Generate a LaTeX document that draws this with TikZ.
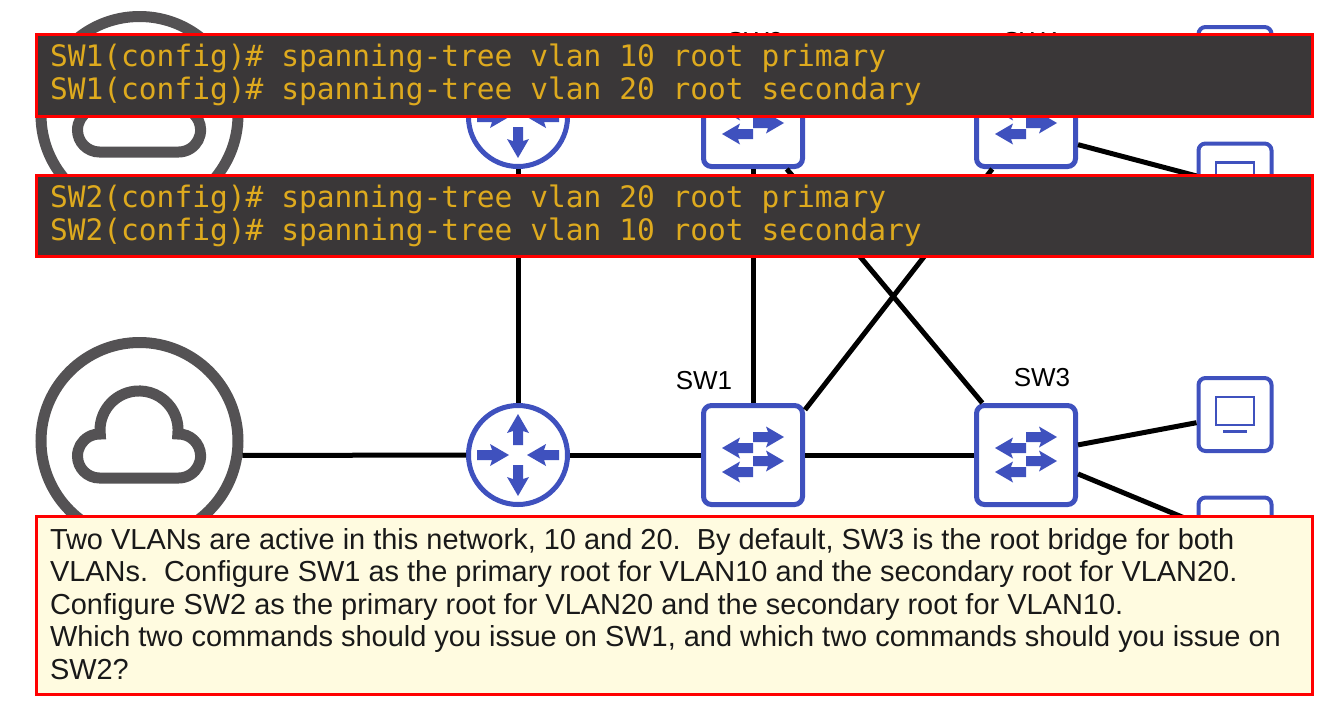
\documentclass[tikz,border=0pt]{standalone}
\usepackage{fontspec}
\setmainfont{Liberation Sans}
\newfontfamily\cmdfont{DejaVu Sans Mono}
\definecolor{iconblue}{RGB}{63,81,190}
\definecolor{cloudgray}{RGB}{84,82,84}
\definecolor{cmdback}{RGB}{58,55,56}
\definecolor{cmdgold}{RGB}{222,170,30}
\definecolor{noteback}{RGB}{255,251,224}
\tikzset{
    routernode/.style={
        circle,
        draw=iconblue,
        fill=white,
        line width=5pt,
        minimum size=99pt,
        inner sep=0
    },
    switchnode/.style={
        rectangle,
        draw=iconblue,
        fill=white,
        line width=5pt,
        rounded corners=8pt,
        minimum size=99pt,
        inner sep=0
    },
    pcnode/.style={
        rectangle,
        draw=iconblue,
        fill=white,
        line width=4pt,
        rounded corners=7pt,
        minimum size=73pt,
        inner sep=0
    },
    cloudnode/.style={
        circle,
        draw=cloudgray,
        fill=white,
        line width=11pt,
        minimum size=197pt,
        inner sep=0
    },
    link/.style={line width=5pt, black},
    namelabel/.style={font=\fontsize{26}{30}\selectfont, inner sep=0},
    cmdpanel/.style={
        rectangle,
        draw=red,
        fill=cmdback,
        line width=3pt,
        text width=1249pt,
        inner xsep=13.5pt,
        inner ysep=0,
        align=flush left,
        text=cmdgold,
        font=\cmdfont\fontsize{29.55}{33}\selectfont
    },
    notepanel/.style={
        rectangle,
        draw=red,
        fill=noteback,
        line width=3pt,
        minimum height=178pt,
        text width=1249pt,
        inner xsep=13.5pt,
        inner ysep=0,
        align=flush left,
        text=black!90,
        font=\fontsize{28.95}{32.5}\selectfont
    },
    routerarrows/.pic={
        \foreach \a in {90,270} {
            \fill[iconblue, rotate=\a] (41,0) -- (22,11) -- (24,5) -- (10,5) -- (10,-5) -- (24,-5) -- (22,-11) -- cycle;
        }
        \foreach \a in {0,180} {
            \fill[iconblue, rotate=\a] (9,0) -- (28,11) -- (26,5) -- (41,5) -- (41,-5) -- (26,-5) -- (28,-11) -- cycle;
        }
    },
    switcharrow/.pic={
        \fill[iconblue] (31,0) -- (13,10.5) -- (15,5) -- (0,5) -- (0,-5) -- (15,-5) -- (13,-10.5) -- cycle;
    },
    switcharrows/.pic={
        \pic at (0,-18) {switcharrow};
        \pic at (0,6) {switcharrow};
        \pic[rotate=180] at (0,-7) {switcharrow};
        \pic[rotate=180] at (0,17) {switcharrow};
    },
    pcscreen/.pic={
        \draw[iconblue, line width=2.5pt] (-19,-17.5) rectangle (19,10.5);
        \draw[iconblue, line width=2.5pt] (-12,17) -- (12,17);
    },
    cloudshape/.pic={
        \draw[cloudgray, line width=11pt] (-40,37)
            arc[start angle=90, end angle=272, radius=22]
            arc[start angle=174, end angle=366, radius=39]
            arc[start angle=268, end angle=450, radius=22]
            -- cycle;
    }
}
\begin{document}
\begin{tikzpicture}[x=1pt, y=-1pt]
    \useasboundingbox (0,0) rectangle (1343,713);
    % upper row
    \node[cloudnode] (cloud2) at (139.5,115) {};
    \node[routernode] (rt2) at (518,117) {};
    \node[switchnode] (sw2) at (753,117) {};
    \node[switchnode] (sw4) at (1026,117) {};
    \node[pcnode] (pc1) at (1235,63.5) {};
    \node[pcnode] (pc2) at (1235,180) {};
    % lower row
    \node[cloudnode] (cloud1) at (139.5,441) {};
    \node[routernode] (rt1) at (518,455) {};
    \node[switchnode] (sw1) at (753,455) {};
    \node[switchnode] (sw3) at (1026,455) {};
    \node[pcnode] (pc3) at (1235,414.5) {};
    \node[pcnode] (pc4) at (1235,534) {};
    % icons
    \pic at (cloud1) {cloudshape};
    \pic at (cloud2) {cloudshape};
    \pic at (rt1) {routerarrows};
    \pic at (rt2) {routerarrows};
    \foreach \n in {sw1,sw2,sw3,sw4} {
        \pic at (\n) {switcharrows};
    }
    \foreach \n in {pc1,pc2,pc3,pc4} {
        \pic at (\n) {pcscreen};
    }
    % links
    \draw[link] (cloud1.-8) -- (rt1.west);
    \draw[link] (rt1.east) -- (sw1.west);
    \draw[link] (sw1.east) -- (sw3.west);
    \draw[link] (rt2.south) -- (rt1.north);
    \draw[link] (sw2.south) -- (sw1.north);
    \draw[link] (sw1.41) -- (sw4.237);
    \draw[link] (sw2.-57) -- (sw3.130);
    \draw[link] (sw3.11) -- (pc3.192);
    \draw[link] (sw3.-20) -- (pc4.164);
    \draw[link] (cloud2.east) -- (rt2.178);
    \draw[link] (rt2.2) -- (sw2.178);
    \draw[link] (sw2.2) -- (sw4.178);
    \draw[link] (sw4.12) -- (pc1.west);
    \draw[link] (sw4.-28) -- (pc2.174);
    % labels
    \node[namelabel] (lblsw1) at (704,381) {SW1};
    \node[namelabel] (lblsw3) at (1042,378) {SW3};
    \node[namelabel] (lblsw2) at (755,42) {SW2};
    \node[namelabel] (lblsw4) at (1031,42) {SW4};
    % panels
    \node[cmdpanel, minimum height=82pt] (cmd1) at (674.5,75.5) {SW1(config)\# spanning-tree vlan 10 root primary\\SW1(config)\# spanning-tree vlan 20 root secondary\par\vspace{2pt}};
    \node[cmdpanel, minimum height=81pt] (cmd2) at (674.5,216) {SW2(config)\# spanning-tree vlan 20 root primary\\SW2(config)\# spanning-tree vlan 10 root secondary};
    \node[notepanel] (note) at (674.5,605.5) {Two VLANs are active in this network, 10 and 20.\ \ By default, SW3 is the root bridge for both\\VLANs.\ \ Configure SW1 as the primary root for VLAN10 and the secondary root for VLAN20.\\Configure SW2 as the primary root for VLAN20 and the secondary root for VLAN10.\\Which two commands should you issue on SW1, and which two commands should you issue on\\SW2?\par\vspace{3pt}};
\end{tikzpicture}
\end{document}
